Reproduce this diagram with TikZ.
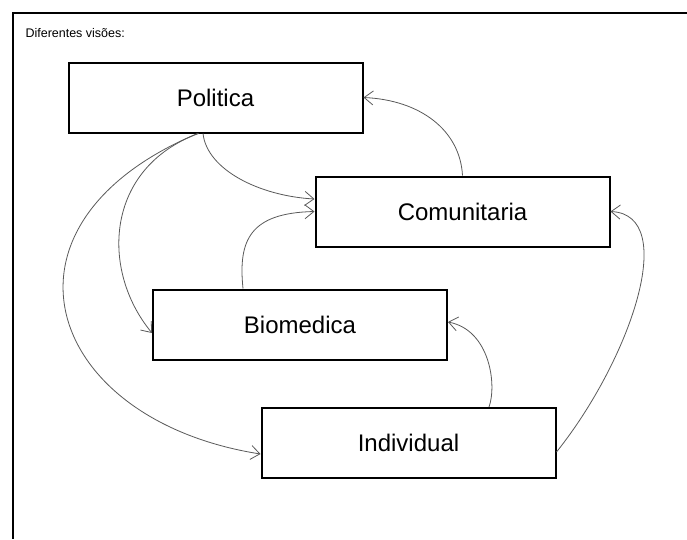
\documentclass[tikz,border=0pt]{standalone}
\usepackage{fontspec}
\setmainfont{Liberation Sans}
\usetikzlibrary{arrows.meta}

\tikzset{
  viewbox/.style={draw=black, line width=2pt, fill=white, inner sep=0pt,
    minimum width=294pt, minimum height=70pt,
    font=\fontsize{24}{28}\selectfont},
  link/.style={draw=black!65, line width=0.8pt,
    -{Straight Barb[length=9pt,width=14pt,line width=0.8pt]}},
  frameline/.style={draw=black, line width=2pt}
}

\begin{document}
\begin{tikzpicture}[x=1pt,y=-1pt]
  \useasboundingbox (0,0) rectangle (687,539);

  % open frame: top and left edges only
  \coordinate (ftr) at (687,13);
  \coordinate (ftl) at (13,13);
  \coordinate (fbl) at (13,539);
  \draw[frameline] (ftr) -- (ftl) -- (fbl);

  \node[anchor=west, font=\fontsize{12.5}{15}\selectfont] (title) at (22,33) {Diferentes visões:};

  % the four points of view
  \node[viewbox] (pol) at (215.5,97.5) {Politica};
  \node[viewbox] (com) at (462.5,211.5) {Comunitaria};
  \node[viewbox] (bio) at (300,324.5) {Biomedica};
  \node[viewbox] (ind) at (408.5,443) {Individual};

  % Politica -> Comunitaria
  \draw[link] ([xshift=-12.5pt]pol.south) .. controls (207,170) and (260,196) .. ([yshift=12.5pt]com.west);
  % Biomedica -> Comunitaria
  \draw[link] ([xshift=-57pt]bio.north) .. controls (238,240) and (250,213) .. (com.west);
  % Comunitaria -> Politica
  \draw[link] (com.north) .. controls (460,130) and (420,100) .. (pol.east);
  % Politica -> Biomedica
  \draw[link] ([xshift=-17pt]pol.south) .. controls (105,168) and (100,270) .. ([yshift=-8.5pt]bio.west);
  % Politica -> Individual
  \draw[link] ([xshift=-18pt]pol.south) .. controls (-20,225) and (45,420) .. ([yshift=-11pt]ind.west);
  % Individual -> Biomedica
  \draw[link] ([xshift=80.5pt]ind.north) .. controls (497,385) and (490,330) .. ([yshift=2.5pt]bio.east);
  % Individual -> Comunitaria
  \draw[link] ([yshift=-9pt]ind.east) .. controls (630,360) and (680,215) .. (com.east);
\end{tikzpicture}
\end{document}
